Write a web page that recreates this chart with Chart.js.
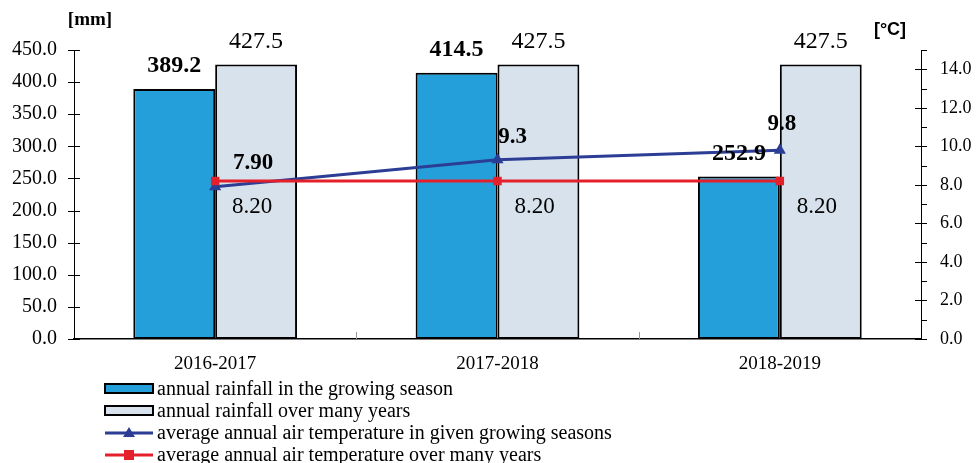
<!DOCTYPE html>
<html>
<head>
<meta charset="utf-8">
<script src="https://cdn.jsdelivr.net/npm/chart.js@4"></script>
<style>
  body { margin: 0; background: #fff; }
  canvas { display: block; }
</style>
</head>
<body>
<canvas id="rainChart" width="976" height="463"></canvas>
<script>
const seasons = ['2016-2017', '2017-2018', '2018-2019'];
const rainSeason = [389.2, 414.5, 252.9];
const rainLongTerm = [427.5, 427.5, 427.5];
const tempSeason = [7.9, 9.3, 9.8];
const tempSeasonText = ['7.90', '9.3', '9.8'];
const tempLongTerm = [8.2, 8.2, 8.2];
const tempLongTermText = ['8.20', '8.20', '8.20'];
const legendNames = [
    'annual rainfall in the growing season',
    'annual rainfall over many years',
    'average annual air temperature in given growing seasons',
    'average annual air temperature over many years'
];

const SERIF = '"Liberation Serif", "Times New Roman", serif';

// value labels, axis titles, crossing ticks and the stacked legend
const extrasPlugin = {
    id: 'extras',
    afterDatasetsDraw(chart) {
        const ctx = chart.ctx;
        ctx.save();
        ctx.fillStyle = '#000';
        ctx.textAlign = 'center';
        ctx.textBaseline = 'middle';

        // bar labels
        [0, 1].forEach(di => {
            const meta = chart.getDatasetMeta(di);
            ctx.font = (di === 0 ? 'bold ' : '') + '24px ' + SERIF;
            meta.data.forEach((bar, i) => {
                const v = chart.data.datasets[di].data[i];
                ctx.fillText(v.toFixed(1), bar.x, bar.y - 23);
            });
        });

        // line labels
        const blueOff = [[38, -24], [15, -23], [2, -26]];
        const blue = chart.getDatasetMeta(2);
        ctx.font = 'bold 23px ' + SERIF;
        blue.data.forEach((p, i) => {
            ctx.fillText(tempSeasonText[i], p.x + blueOff[i][0], p.y + blueOff[i][1]);
        });
        const red = chart.getDatasetMeta(3);
        ctx.font = '23px ' + SERIF;
        red.data.forEach((p, i) => {
            ctx.fillText(tempLongTermText[i], p.x + 37, p.y + 26);
        });
        ctx.restore();
    },
    afterDraw(chart) {
        const ctx = chart.ctx;
        const ca = chart.chartArea;
        const yl = chart.scales.y;
        const yr = chart.scales.y1;
        const xs = chart.scales.x;
        ctx.save();

        // axis ticks
        ctx.strokeStyle = '#000';
        ctx.lineWidth = 1;
        ctx.beginPath();
        for (let v = 0; v <= 450; v += 50) {
            const y = Math.round(yl.getPixelForValue(v)) + 0.5;
            ctx.moveTo(ca.left - 6, y);
            ctx.lineTo(ca.left + 6, y);
        }
        for (let v = 0; v <= 15; v += 1) {
            const y = Math.round(yr.getPixelForValue(v)) + 0.5;
            if (v % 2 === 0) {
                ctx.moveTo(ca.right - 6, y);
            } else {
                ctx.moveTo(ca.right, y);
            }
            ctx.lineTo(ca.right + 6, y);
        }
        ctx.stroke();

        ctx.strokeStyle = '#999';
        ctx.beginPath();
        for (let i = 1; i < seasons.length; i++) {
            const x = Math.round((xs.getPixelForValue(i - 1) + xs.getPixelForValue(i)) / 2) + 0.5;
            ctx.moveTo(x, ca.bottom);
            ctx.lineTo(x, ca.bottom - 7);
        }
        ctx.stroke();

        // axis titles
        ctx.fillStyle = '#000';
        ctx.textAlign = 'center';
        ctx.textBaseline = 'middle';
        ctx.font = 'bold 19px ' + SERIF;
        ctx.fillText('[mm]', 90, 20);
        ctx.font = 'bold 18px "Liberation Sans", Arial, sans-serif';
        ctx.fillText('[°C]', 890, 30);

        // legend
        const x0 = 105, x1 = 153;
        ctx.textAlign = 'left';
        ctx.font = '20px ' + SERIF;
        chart.data.datasets.forEach((ds, i) => {
            const y = 389 + i * 22;
            if (ds.type === 'bar') {
                ctx.fillStyle = ds.backgroundColor;
                ctx.fillRect(x0, y - 5, x1 - x0, 9);
                ctx.strokeStyle = '#000';
                ctx.lineWidth = 2;
                ctx.strokeRect(x0, y - 5, x1 - x0, 9);
            } else {
                ctx.strokeStyle = ds.borderColor;
                ctx.lineWidth = 3;
                ctx.beginPath();
                ctx.moveTo(x0, y);
                ctx.lineTo(x1, y);
                ctx.stroke();
                ctx.fillStyle = ds.borderColor;
                const cx = (x0 + x1) / 2;
                if (ds.pointStyle === 'triangle') {
                    ctx.beginPath();
                    ctx.moveTo(cx, y - 6);
                    ctx.lineTo(cx + 6, y + 4);
                    ctx.lineTo(cx - 6, y + 4);
                    ctx.closePath();
                    ctx.fill();
                } else {
                    ctx.fillRect(cx - 5, y - 5, 10, 10);
                }
            }
            ctx.fillStyle = '#000';
            ctx.fillText(legendNames[i], x1 + 4, y + 1);
        });
        ctx.restore();
    }
};

const ctx = document.getElementById('rainChart').getContext('2d');
new Chart(ctx, {
    type: 'bar',
    data: {
        labels: seasons,
        datasets: [
            {
                type: 'bar',
                label: legendNames[0],
                data: rainSeason,
                backgroundColor: '#259fd9',
                borderColor: '#000',
                borderWidth: 2,
                borderSkipped: false,
                yAxisID: 'y',
                order: 3
            },
            {
                type: 'bar',
                label: legendNames[1],
                data: rainLongTerm,
                backgroundColor: '#d8e2ed',
                borderColor: '#000',
                borderWidth: 2,
                borderSkipped: false,
                yAxisID: 'y',
                order: 3
            },
            {
                type: 'line',
                label: legendNames[2],
                data: tempSeason,
                borderColor: '#2b3d94',
                backgroundColor: '#2b3d94',
                borderWidth: 3,
                pointStyle: 'triangle',
                pointRadius: 7,
                pointBorderWidth: 0,
                tension: 0,
                yAxisID: 'y1',
                order: 1
            },
            {
                type: 'line',
                label: legendNames[3],
                data: tempLongTerm,
                borderColor: '#e4212a',
                backgroundColor: '#e4212a',
                borderWidth: 3,
                pointStyle: 'rect',
                pointRadius: 6,
                pointBorderWidth: 0,
                tension: 0,
                yAxisID: 'y1',
                order: 0
            }
        ]
    },
    options: {
        responsive: false,
        animation: false,
        layout: { padding: { top: 50, bottom: 74, left: 0, right: 0 } },
        datasets: { bar: { categoryPercentage: 0.58, barPercentage: 1.0 } },
        plugins: { legend: { display: false }, tooltip: { enabled: false } },
        scales: {
            x: {
                grid: { display: false },
                border: { color: '#000', width: 1.5 },
                ticks: { color: '#000', font: { family: SERIF, size: 19 }, padding: 6 },
                afterFit: s => { s.height = 50; }
            },
            y: {
                position: 'left',
                min: 0, max: 450,
                grid: { display: false },
                border: { color: '#000', width: 1 },
                ticks: {
                    stepSize: 50, color: '#000', padding: 9,
                    font: { family: SERIF, size: 20 },
                    callback: v => v.toFixed(1)
                },
                afterFit: s => { s.width = 74; }
            },
            y1: {
                position: 'right',
                min: 0, max: 15,
                grid: { display: false },
                border: { color: '#000', width: 1 },
                ticks: {
                    stepSize: 1, color: '#000', padding: 11,
                    font: { family: SERIF, size: 18 },
                    callback: v => (v % 2 === 0 && v <= 14) ? v.toFixed(1) : ''
                },
                afterFit: s => { s.width = 55; }
            }
        }
    },
    plugins: [extrasPlugin]
});
</script>
</body>
</html>
